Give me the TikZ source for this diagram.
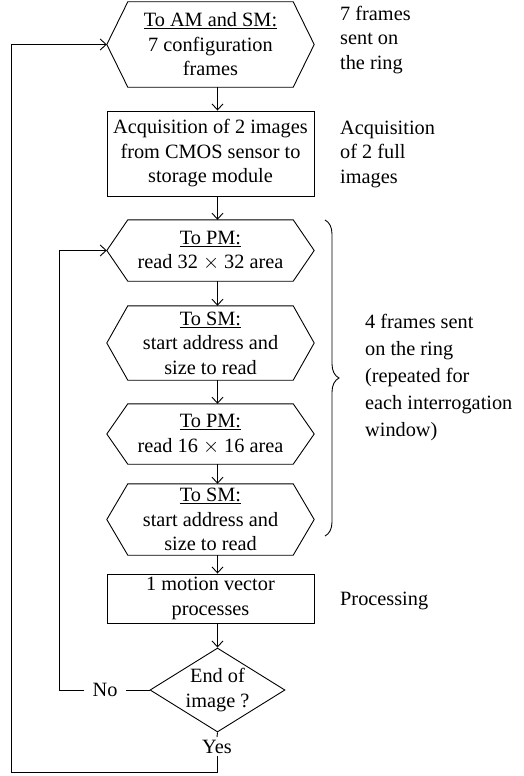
\documentclass[tikz,border=0pt]{standalone}
\usepackage{fontspec}
\setmainfont{Liberation Serif}
\usetikzlibrary{arrows.meta,shapes.geometric,decorations.pathreplacing}
\newcommand\hexdraw[1]{\draw[ln] ([xshift=21pt]#1.north west) -- ([xshift=-21pt]#1.north east) -- (#1.east) -- ([xshift=-21pt]#1.south east) -- ([xshift=21pt]#1.south west) -- (#1.west) -- cycle;}
\begin{document}
\begin{tikzpicture}[x=1pt,y=-1pt,
  ln/.style={line width=0.9pt},
  arr/.style={ln,-{Straight Barb[length=6pt,width=11pt,line width=0.9pt]}},
  txt/.style={font=\fontsize{20.3}{24.5}\selectfont},
  hexnode/.style={txt,align=center,minimum width=207pt,inner sep=0pt},
  boxnode/.style={txt,align=center,minimum width=207pt,inner sep=0pt,draw,ln},
  side/.style={txt,align=left,anchor=west,inner sep=0pt}]
\useasboundingbox (0,0) rectangle (523,776);

\node[hexnode,minimum height=85pt] (h1) at (210.5,44.5) {\underline{To AM and SM:}\\7 configuration\\frames};
\hexdraw{h1}
\node[boxnode,minimum height=85pt] (b2) at (210.5,153.5) {Acquisition of 2 images\\from CMOS sensor to\\storage module};
\node[hexnode,minimum height=61pt] (h3) at (210.5,250.5) {\underline{To PM:}\\read 32 $\times$ 32 area};
\hexdraw{h3}
\node[hexnode,minimum height=74pt] (h4) at (210.5,343) {\underline{To SM:}\\start address and\\size to read};
\hexdraw{h4}
\node[hexnode,minimum height=60pt] (h5) at (210.5,434) {\underline{To PM:}\\read 16 $\times$ 16 area};
\hexdraw{h5}
\node[hexnode,minimum height=71pt] (h6) at (210.5,519.5) {\underline{To SM:}\\start address and\\size to read};
\hexdraw{h6}
\node[boxnode,minimum height=49pt] (b7) at (210.5,598.5) {1 motion vector\\processes};
\node[diamond,draw,ln,txt,align=center,aspect=1.6,minimum width=135pt,minimum height=84pt,inner sep=0pt] (d) at (217.5,690) {End of\\image ?};
\node[txt,inner sep=0pt] (no) at (105,690) {No};
\node[txt,inner sep=0pt] (yes) at (217,747) {Yes};

\coordinate (ox) at (11,0);
\coordinate (lx) at (59,0);
\coordinate (bot) at (217,772);

\draw[arr] (h1.south -| d.north) -- (b2.north -| d.north);
\draw[arr] (b2.south -| d.north) -- (h3.north -| d.north);
\draw[arr] (h3.south -| d.north) -- (h4.north -| d.north);
\draw[arr] (h4.south -| d.north) -- (h5.north -| d.north);
\draw[arr] (h5.south -| d.north) -- (h6.north -| d.north);
\draw[arr] (h6.south -| d.north) -- (b7.north -| d.north);
\draw[arr] (b7.south -| d.north) -- (d.north);

\draw[ln] (d.west) -- ([xshift=8pt]no.east);
\draw[arr] ([xshift=-8pt]no.west) -- (no.west -| lx) -- (lx |- h3.west) -- (h3.west);
\draw[ln] (d.south) -- ([yshift=3pt]yes.north);
\draw[arr] ([yshift=-2pt]yes.south) -- (yes.south |- bot) -- (ox |- bot) -- (ox |- h1.west) -- (h1.west);

\node[side] (s1) at (340,40) {7 frames\\sent on\\the ring};
\node[side] (s2) at (340,154) {Acquisition\\of 2 full\\images};
\node[side,font=\fontsize{20.3}{27}\selectfont] (s3) at (365,378) {4 frames sent\\on the ring\\(repeated for\\each interrogation\\window)};
\node[side] (s4) at (340,601) {Processing};

\draw[ln,decorate,decoration={brace,amplitude=14pt}] (325,220) -- (325,536);
\end{tikzpicture}
\end{document}
